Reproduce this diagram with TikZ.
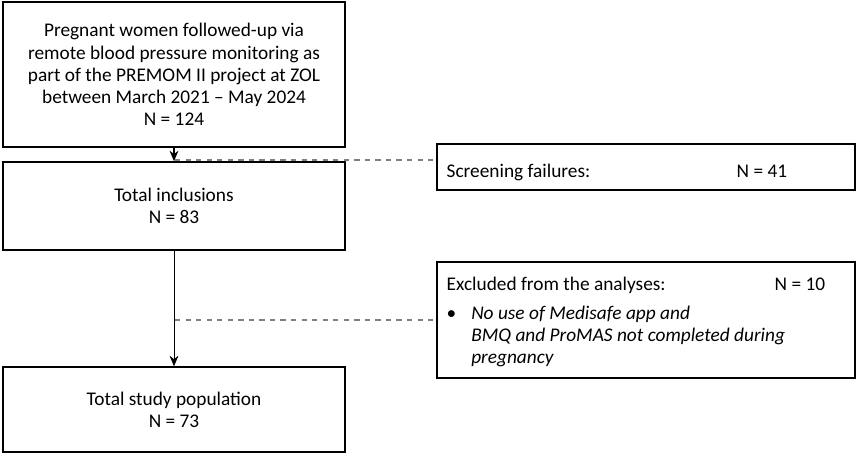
\documentclass[tikz,border=0pt]{standalone}
\usepackage{fontspec}
\setmainfont{Carlito}
\usetikzlibrary{arrows.meta}
\usetikzlibrary{positioning}

\begin{document}
\begin{tikzpicture}[
    box/.style={draw, thick, align=center, minimum width=6.84cm,
      font=\fontsize{11}{12.6}\selectfont},
    side/.style={draw, thick, minimum width=8.36cm},
    txt/.style={inner sep=0pt, font=\fontsize{11}{12.6}\selectfont},
    flow/.style={-{Stealth[length=6pt,width=5pt]}, thick},
    skip/.style={dashed, gray, thick}
  ]
    \useasboundingbox (0,0) rectangle (17.16,-9.1);
    % Main column
    \node[box, minimum height=2.9cm] (enrol) at (3.48,-1.49)
    {Pregnant women followed-up via\\ remote blood pressure monitoring as\\ part of the PREMOM II project at ZOL\\ between March 2021 -- May 2024\\ N = 124};
    \node[box, minimum height=1.76cm] (incl) at (3.48,-4.12)
    {Total inclusions\\ N = 83};
    \node[box, minimum height=1.7cm] (final) at (3.48,-8.19)
    {Total study population\\ N = 73};

    % Side boxes
    \node[side, minimum height=0.92cm] (screen) at (12.92,-3.34) {};
    \node[txt, anchor=west] (screentxt) at ([xshift=0.2cm, yshift=-0.1cm]screen.west) {Screening failures:};
    \node[txt, anchor=base west] (screenN) at ([xshift=5.8cm]screentxt.base west) {N = 41};

    \node[side, minimum height=2.32cm] (excl) at (12.92,-6.4) {};
    \node[txt, anchor=north west] (excltxt) at ([xshift=0.2cm, yshift=-0.3cm]excl.north west) {Excluded from the analyses:};
    \node[txt, anchor=base west] (exclN) at ([xshift=6.56cm]excltxt.base west) {N = 10};
    \node[txt, anchor=north west] (exclitem) at ([yshift=-0.2cm]excltxt.south west)
    {\begin{tabular}{@{}l@{\hspace{0.3cm}}l@{}}
      \textbullet & \textit{No use of Medisafe app and}\\
      & \textit{BMQ and ProMAS not completed during}\\
      & \textit{pregnancy}
    \end{tabular}};

    % Flow
    \draw[flow] (enrol) -- (incl);
    \draw[flow, thin] (incl) -- (final);
    \coordinate (cut1) at (3.5,-3.2);
    \coordinate (cut2) at (3.5,-6.4);
    \draw[skip] (cut1) -- (cut1 -| screen.west);
    \draw[skip] (cut2) -- (cut2 -| excl.west);
  \end{tikzpicture}
\end{document}
